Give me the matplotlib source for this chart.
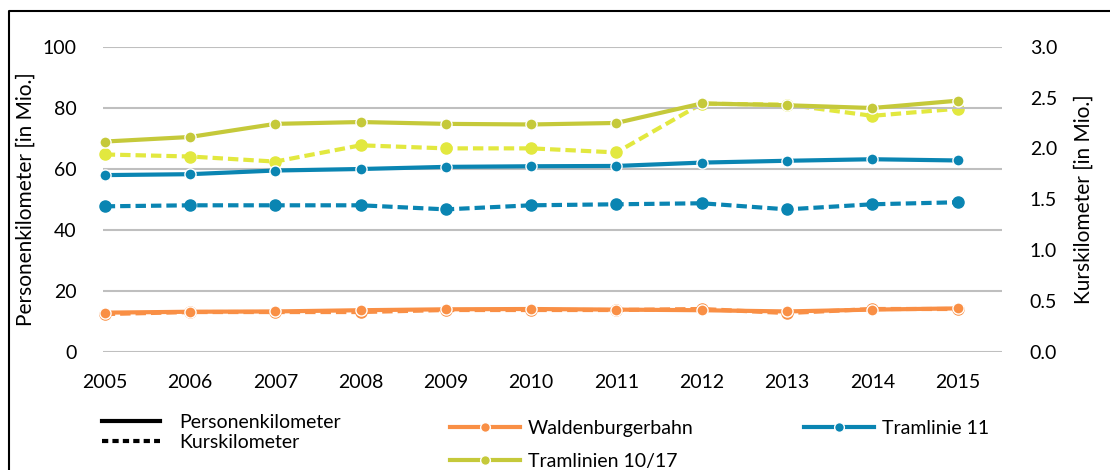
import matplotlib.pyplot as plt
from matplotlib.lines import Line2D

plt.rcParams['font.family'] = ['Lato', 'DejaVu Sans']

# data
years = [2005, 2006, 2007, 2008, 2009, 2010, 2011, 2012, 2013, 2014, 2015]

# Personenkilometer [Mio.] (left axis, solid)
wald_pkm = [12.8, 13.1, 13.2, 13.6, 13.9, 14.0, 13.8, 13.6, 13.2, 13.8, 14.2]
tram11_pkm = [57.9, 58.2, 59.4, 59.9, 60.6, 60.8, 60.9, 62.0, 62.6, 63.1, 62.7]
tram1017_pkm = [68.9, 70.4, 74.7, 75.3, 74.7, 74.5, 75.0, 81.4, 80.8, 79.9, 82.3]

# Kurskilometer [Mio.] (right axis, dashed)
wald_kkm = [0.37, 0.39, 0.39, 0.39, 0.41, 0.41, 0.41, 0.42, 0.38, 0.42, 0.42]
tram11_kkm = [1.43, 1.44, 1.44, 1.44, 1.40, 1.44, 1.45, 1.46, 1.40, 1.45, 1.47]
tram1017_kkm = [1.94, 1.92, 1.87, 2.03, 2.00, 2.00, 1.96, 2.44, 2.43, 2.32, 2.39]

c_wald = '#F98F45'
c_tram11 = '#0A85B2'
c_tram1017 = '#C5C93A'
c_tram1017_k = '#E2E83F'
grid_c = '#BFBFBF'
fs = 14

fig = plt.figure(figsize=(11.1, 4.7), dpi=100)
ax = fig.add_axes([103 / 1110, 1 - 351.7 / 470, 899 / 1110, 305 / 470])
ax2 = ax.twinx()

ax.set_xlim(2004.98, 2015.52)
ax.set_ylim(0, 100)
ax2.set_ylim(0, 3.0)
ax.set_yticks([0, 20, 40, 60, 80, 100])
ax2.set_yticks([0, 0.5, 1.0, 1.5, 2.0, 2.5, 3.0])
ax2.set_yticklabels(['0.0', '0.5', '1.0', '1.5', '2.0', '2.5', '3.0'])
ax.set_xticks(years)

for a in (ax, ax2):
    for s in a.spines.values():
        s.set_visible(False)
    a.tick_params(length=0, labelsize=fs, colors='black')
ax.tick_params(axis='y', pad=19)
ax.tick_params(axis='x', pad=16)
ax2.tick_params(axis='y', pad=20)
ax.grid(axis='y', color=grid_c, linewidth=1.5)
ax.set_axisbelow(True)

ax.set_ylabel('Personenkilometer [in Mio.]', fontsize=15, labelpad=5)
ax2.set_ylabel('Kurskilometer [in Mio.]', fontsize=15, labelpad=12)

kw = dict(linewidth=3, marker='o', markersize=8, markeredgecolor='white',
          markeredgewidth=1, clip_on=False)
kw_d = dict(linewidth=3, linestyle=(0, (2.5, 1.2)), marker='o', markersize=8,
            clip_on=False)

ax2.plot(years, wald_kkm, color=c_wald, **kw_d)
ax2.plot(years, tram11_kkm, color=c_tram11, **kw_d)
ax2.plot(years, tram1017_kkm, color=c_tram1017_k, **kw_d)

# solid series drawn on top of the dashed ones
ax.set_zorder(ax2.get_zorder() + 1)
ax.patch.set_visible(False)
ax.plot(years, wald_pkm, color=c_wald, **kw)
ax.plot(years, tram11_pkm, color=c_tram11, **kw)
ax.plot(years, tram1017_pkm, color=c_tram1017, **kw)

# legend: line styles
style_handles = [Line2D([], [], color='black', linewidth=3),
                 Line2D([], [], color='black', linewidth=3, linestyle=(0, (1.5, 1)))]
fig.legend(style_handles, ['Personenkilometer', 'Kurskilometer'],
           loc='upper left', bbox_to_anchor=(92 / 1110, 1 - 404 / 470),
           frameon=False, fontsize=fs, handlelength=3.0,
           handletextpad=1.0, labelspacing=0.18, borderpad=0)

# legend: series
series_handles = [
    Line2D([], [], color=c_wald, linewidth=3, marker='o', markersize=7, markeredgecolor='white'),
    Line2D([], [], color=c_tram1017, linewidth=3, marker='o', markersize=7, markeredgecolor='white'),
    Line2D([], [], color=c_tram11, linewidth=3, marker='o', markersize=7, markeredgecolor='white'),
]
fig.legend(series_handles, ['Waldenburgerbahn', 'Tramlinien 10/17', 'Tramlinie 11'],
           loc='upper left', bbox_to_anchor=(440 / 1110, 1 - 410 / 470),
           ncol=2, frameon=False, fontsize=fs, handlelength=3.6,
           handletextpad=0.4, labelspacing=0.85, columnspacing=5.7, borderpad=0)

# outer frame (top and left edges)
fig.add_artist(Line2D([9 / 1110, 9 / 1110, 1.0], [0.0, 1 - 11 / 470, 1 - 11 / 470],
                      color='black', linewidth=1.5))

fig.savefig('out.png', dpi=100)
